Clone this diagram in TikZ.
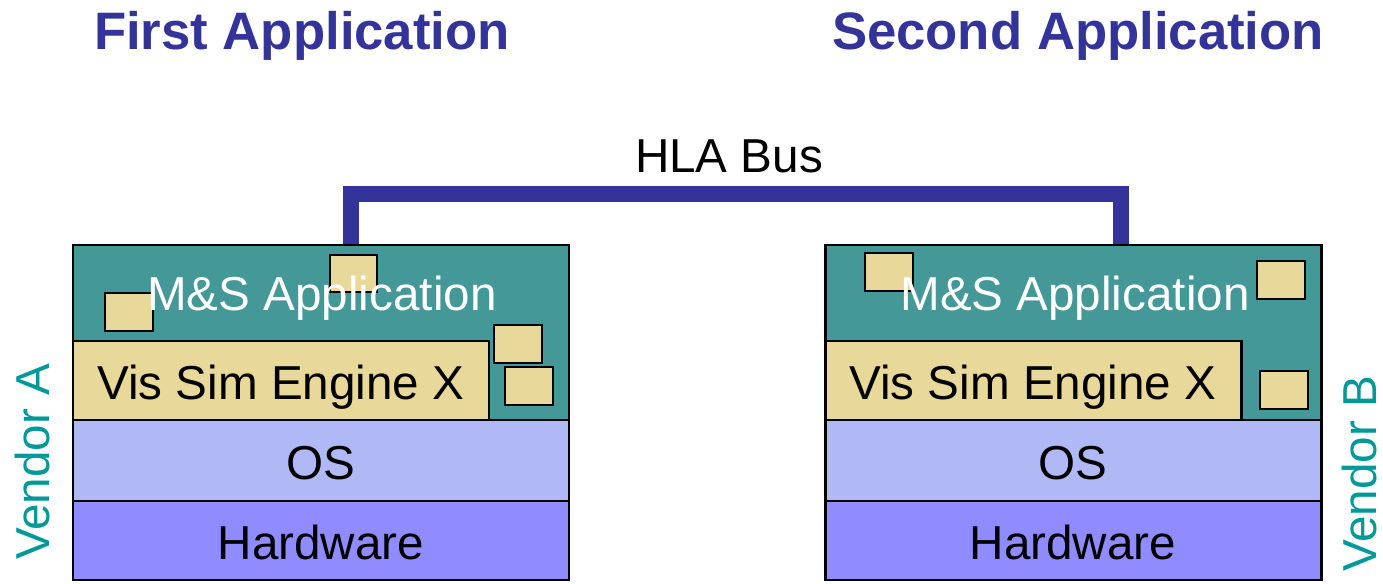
\documentclass[tikz,border=0pt]{standalone}
\usepackage{fontspec}
\setmainfont{Liberation Sans}
\usetikzlibrary{fit}
\definecolor{teal1}{RGB}{69,152,152}
\definecolor{khaki}{RGB}{232,216,154}
\definecolor{oscol}{RGB}{176,184,246}
\definecolor{hwcol}{RGB}{144,140,255}
\definecolor{titleblue}{RGB}{51,51,153}
\definecolor{vendcol}{RGB}{0,153,153}
\begin{document}
\begin{tikzpicture}[x=0.02cm,y=-0.02cm,
  layer/.style={draw=black,line width=1.7pt,inner sep=0pt},
  chip/.style={draw=black,line width=1.3pt,fill=khaki,inner sep=0pt},
  lbl/.style={font=\fontsize{27.1pt}{30pt}\selectfont,inner sep=0pt,anchor=base},
  ttl/.style={font=\fontsize{30pt}{33pt}\selectfont\bfseries,text=titleblue,inner sep=0pt,anchor=base},
  vend/.style={font=\fontsize{27.1pt}{30pt}\selectfont,text=vendcol,inner sep=0pt,anchor=base,rotate=90},
  bus/.style={draw=titleblue,line width=0.32cm,line join=miter}]
\useasboundingbox (0,0) rectangle (1383,584);
% titles
\node[ttl] (t1) at (302,50) {First Application};
\node[ttl] (t2) at (1078,50) {Second Application};
% left stack
\node[layer,fill=teal1,fit={(73,245)(569,420)}] (appA) {};
\node[layer,fill=khaki,fit={(73,341)(489,420)}] (visA) {};
\node[layer,fill=oscol,fit={(73,420)(569,501)}] (osA) {};
\node[layer,fill=hwcol,fit={(73,501)(569,580)}] (hwA) {};
\node[chip,fit={(330,255)(377,292)}] (cA1) {};
\node[chip,fit={(105,293)(153,331)}] (cA2) {};
\node[chip,fit={(494,325)(542,363)}] (cA3) {};
\node[chip,fit={(505,367)(553,405)}] (cA4) {};
\node[lbl,text=white] (appAt) at (322,311) {M\&S Application};
\node[lbl] (visAt) at (281,399) {Vis Sim Engine X};
\node[lbl] (osAt) at (321,479) {OS};
\node[lbl] (hwAt) at (321,559) {Hardware};
% right stack
\node[layer,fill=teal1,fit={(825,245)(1321,420)}] (appB) {};
\node[layer,fill=khaki,fit={(825,341)(1241,420)}] (visB) {};
\node[layer,fill=oscol,fit={(825,420)(1321,501)}] (osB) {};
\node[layer,fill=hwcol,fit={(825,501)(1321,580)}] (hwB) {};
\node[chip,fit={(865,253)(913,291)}] (cB1) {};
\node[chip,fit={(1257,261)(1305,299)}] (cB2) {};
\node[chip,fit={(1260,371)(1308,409)}] (cB3) {};
\node[lbl,text=white] (appBt) at (1075,311) {M\&S Application};
\node[lbl] (visBt) at (1033,399) {Vis Sim Engine X};
\node[lbl] (osBt) at (1073,479) {OS};
\node[lbl] (hwBt) at (1073,559) {Hardware};
% vendors
\node[vend] (vA) at (50,462) {Vendor A};
\node[vend] (vB) at (1376,474) {Vendor B};
% bus
\coordinate (busA) at (351,244);
\coordinate (busB) at (1121,244);
\draw[bus] (busA) -- (busA |- 0,194) -- (busB |- 0,194) -- (busB);
\node[lbl] (hla) at (729,173) {HLA Bus};
\end{tikzpicture}
\end{document}
